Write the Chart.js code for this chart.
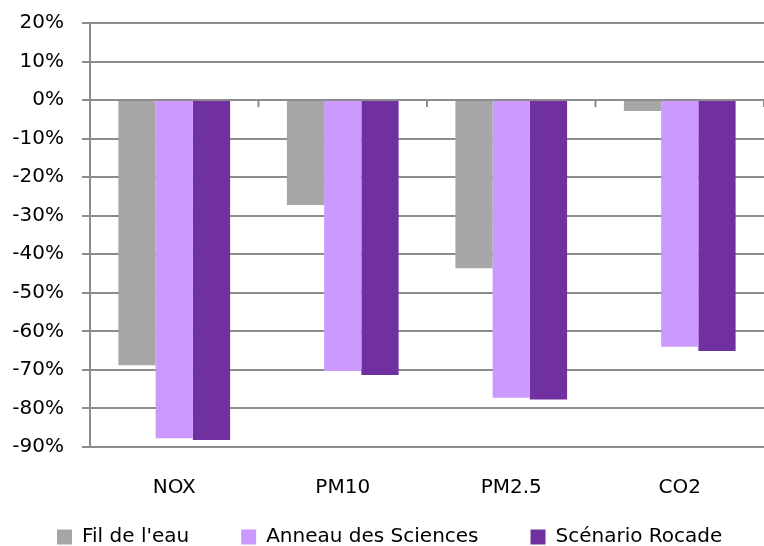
<!DOCTYPE html>
<html>
<head>
<meta charset="utf-8">
<script src="https://cdn.jsdelivr.net/npm/chart.js@4/dist/chart.umd.min.js"></script>
<style>
  html, body { margin: 0; padding: 0; background: #fff; }
  #wrap { width: 764px; height: 546px; }
</style>
</head>
<body>
<div id="wrap"><canvas id="c" width="764" height="546"></canvas></div>
<script>
// Pollutants compared
const categories = ['NOX', 'PM10', 'PM2.5', 'CO2'];

// Change in emissions (%) for each scenario
const filDeLEau = [-68.8, -27.2, -43.6, -2.8];
const anneauDesSciences = [-87.7, -70.3, -77.2, -64.0];
const scenarioRocade = [-88.2, -71.3, -77.7, -65.1];

const seriesNames = ['Fil de l\'eau', 'Anneau des Sciences', 'Scénario Rocade'];

// y axis ticks (percent)
const yMin = -90, yMax = 20, yStep = 10;

const FONT = '"DejaVu Sans", sans-serif';
const GRID = '#8c8c8c';
const LEGEND_GAP = 52;

// Small tick marks on the zero line between categories
const zeroTicks = {
  id: 'zeroTicks',
  afterDatasetsDraw(chart) {
    const x = chart.scales.x, y = chart.scales.y;
    const y0 = y.getPixelForValue(0);
    const ctx = chart.ctx;
    ctx.save();
    ctx.strokeStyle = GRID;
    ctx.lineWidth = 2;
    for (let i = 0; i < categories.length; i++) {
      const b = (x.getPixelForValue(i) + x.getPixelForValue(i + 1)) / 2;
      ctx.beginPath();
      ctx.moveTo(b, y0);
      ctx.lineTo(b, y0 + 7);
      ctx.stroke();
    }
    ctx.restore();
  }
};

// Place the legend row: one line, wide gaps between entries
const legendRow = {
  id: 'legendRow',
  afterLayout(chart) {
    const lg = chart.legend;
    lg.left = 57 - LEGEND_GAP;
    lg.right = 1000;
    lg.top = 527 - LEGEND_GAP;
  }
};

new Chart(document.getElementById('c'), {
  type: 'bar',
  data: {
    labels: categories,
    datasets: [
      { label: seriesNames[0], data: filDeLEau, backgroundColor: '#a6a6a6' },
      { label: seriesNames[1], data: anneauDesSciences, backgroundColor: '#cc99ff' },
      { label: seriesNames[2], data: scenarioRocade, backgroundColor: '#7030a0' }
    ]
  },
  options: {
    responsive: false,
    animation: false,
    devicePixelRatio: 1,
    layout: { padding: { left: 0, right: -9, top: 23, bottom: 0 } },
    datasets: { bar: { categoryPercentage: 0.663, barPercentage: 1.0, borderWidth: 0 } },
    plugins: {
      legend: {
        position: 'bottom',
        align: 'start',
        maxHeight: 44,
        labels: {
          font: { family: FONT, size: 20 },
          color: '#000',
          boxWidth: 15,
          boxHeight: 15,
          padding: LEGEND_GAP
        }
      },
      tooltip: { enabled: false }
    },
    scales: {
      x: {
        grid: { display: false, drawTicks: false },
        border: { display: false },
        ticks: { font: { family: FONT, size: 20 }, color: '#000', padding: 29, maxRotation: 0 },
        afterFit(s) { s.height = 55; }
      },
      y: {
        min: yMin,
        max: yMax,
        ticks: {
          stepSize: yStep,
          font: { family: FONT, size: 20 },
          color: '#000',
          padding: 18,
          callback: v => v + '%'
        },
        grid: { color: GRID, lineWidth: 2, tickLength: 8, drawTicks: true },
        border: { color: GRID, width: 2 },
        afterFit(s) {
          s.width = 90;
          s.paddingTop = 12;
          s.paddingBottom = 12;
        }
      }
    }
  },
  plugins: [zeroTicks, legendRow]
});
</script>
</body>
</html>
